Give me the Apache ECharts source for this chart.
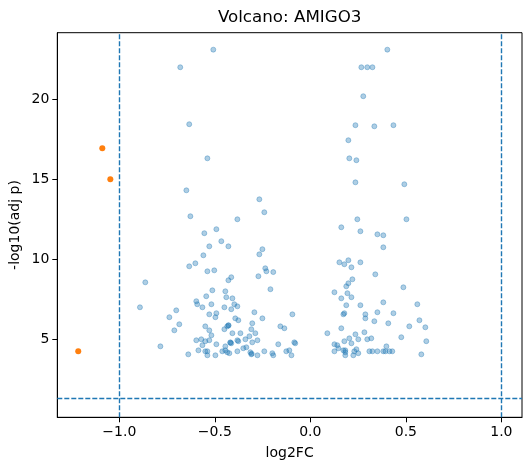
<!DOCTYPE html>
<html>
<head>
<meta charset="utf-8">
<script src="https://cdn.jsdelivr.net/npm/echarts@6/dist/echarts.min.js"></script>
<style>html,body{margin:0;padding:0;background:#fff}#c{width:531px;height:470px}</style>
</head>
<body>
<div id="c"></div>
<script>
const titleText = 'Volcano: AMIGO3';
const xLabel = 'log2FC';
const yLabel = '-log10(adj p)';
const xTicks = [-1.0, -0.5, 0.0, 0.5, 1.0];
const yTicks = [5, 10, 15, 20];
const fcThresholds = [-1, 1];
const pThreshold = 1.301;

const nsLog2FC = [
-0.508,-0.681,-0.634,-0.539,-0.649,-0.267,-0.241,-0.628,-0.382,-0.555,-0.492,-0.466,-0.529,-0.429,-0.251,-0.267,-0.560,-0.602,-0.634,-0.539,
-0.503,-0.236,-0.230,-0.194,-0.272,-0.414,-0.429,-0.864,-0.209,-0.513,-0.445,-0.545,-0.440,-0.408,-0.597,-0.592,-0.518,-0.398,-0.382,-0.892,
-0.565,-0.450,-0.414,-0.702,-0.293,-0.492,-0.529,-0.094,-0.738,-0.497,-0.251,-0.393,-0.377,-0.304,-0.686,-0.429,-0.435,-0.550,-0.157,-0.136,
-0.450,-0.309,-0.712,-0.529,-0.408,-0.366,-0.288,-0.518,-0.319,-0.597,-0.571,-0.550,-0.529,-0.382,-0.377,-0.340,-0.277,-0.084,-0.079,-0.419,
-0.414,-0.304,-0.168,-0.492,-0.565,-0.785,-0.445,-0.335,-0.351,-0.586,-0.550,-0.539,-0.461,-0.445,-0.435,-0.424,-0.382,-0.314,-0.309,-0.241,
-0.199,-0.194,-0.126,-0.110,-0.639,-0.539,-0.497,-0.277,-0.099,-0.419,-0.428,-0.307,
0.403,0.267,0.298,0.325,0.277,0.236,0.335,0.435,0.199,0.204,0.241,0.236,0.492,0.246,0.503,0.162,0.262,0.351,0.382,0.382,
0.152,0.178,0.199,0.262,0.215,0.340,0.220,0.199,0.188,0.487,0.126,0.194,0.162,0.215,0.382,0.188,0.262,0.560,0.173,0.178,
0.288,0.351,0.435,0.288,0.335,0.571,0.408,0.518,0.602,0.162,0.283,0.089,0.236,0.204,0.251,0.298,0.319,0.476,0.607,0.178,
0.215,0.126,0.141,0.147,0.398,0.241,0.173,0.183,0.230,0.126,0.183,0.251,0.183,0.225,0.309,0.325,0.351,0.382,0.393,0.414,
0.429,0.581
];
const nsNegLogP = [
23.1,22.0,18.44,16.31,14.31,13.75,12.94,12.69,12.5,11.63,11.88,11.13,10.81,10.81,10.63,10.31,10.25,9.75,9.56,9.25,
9.31,9.44,9.25,9.2,8.94,8.88,8.69,8.56,8.13,8.06,8.0,7.69,7.63,7.56,7.38,7.19,7.19,7.19,7.06,7.0,
7.0,7.0,6.88,6.81,6.69,6.63,6.56,6.56,6.38,6.38,6.31,6.31,6.19,6.0,5.94,5.88,5.81,5.81,5.81,5.69,
5.63,5.63,5.56,5.56,5.38,5.38,5.38,5.25,5.19,4.94,5.0,4.88,4.94,4.94,4.88,5.0,4.94,4.81,4.75,4.81,
4.75,4.81,4.69,4.69,4.63,4.56,4.56,4.5,4.44,4.31,4.25,4.25,4.25,4.31,4.19,4.13,4.25,4.19,4.06,4.25,
4.13,4.0,4.25,4.31,4.06,4.0,4.0,4.0,4.0,4.78,5.86,4.1,
23.1,22.0,22.0,22.0,20.19,18.38,18.31,18.38,17.44,16.31,16.19,14.81,14.69,12.5,12.5,12.0,11.75,11.56,11.5,10.75,
9.81,9.69,9.94,9.81,9.5,9.06,8.75,8.5,8.31,8.25,7.94,7.88,7.56,7.63,7.31,7.13,7.13,7.19,6.56,6.63,
6.56,6.69,6.63,6.31,6.13,6.19,6.0,5.81,5.75,5.69,5.44,5.38,5.31,5.06,5.0,5.0,5.06,5.13,4.88,4.88,
4.75,4.69,4.63,4.44,4.56,4.38,4.31,4.31,4.25,4.25,4.19,4.13,4.0,4.0,4.25,4.25,4.25,4.25,4.25,4.25,
4.25,4.06
];
const sigLog2FC = [-1.089, -1.047, -1.215];
const sigNegLogP = [16.94, 15.0, 4.25];

const zip = (a, b) => a.map((v, i) => [v, b[i]]);
const FONT = 'DejaVu Sans';
const chart = echarts.init(document.getElementById('c'), null, {renderer: 'canvas'});
const gl = 57.3, gr = 9, gt = 32.7, gb = 52.7;
const axisCommon = {
  axisLine: {show: true, onZero: false, lineStyle: {color: '#000', width: 1}},
  splitLine: {show: false},
};
const lineStyleDash = {color: '#1f77b4', width: 1.4, type: [5, 2], opacity: 1};
chart.setOption({
  animation: false,
  backgroundColor: '#fff',
  grid: {left: gl, right: gr, top: gt, bottom: gb, show: true, borderColor: '#000', borderWidth: 1, containLabel: false},
  xAxis: Object.assign({}, axisCommon, {
    type: 'value', min: -1.3246, max: 1.108,
    axisTick: {show: true, length: 5, lineStyle: {color: '#000'}, customValues: xTicks},
    axisLabel: {customValues: xTicks, color: '#000', fontFamily: FONT, fontSize: 14, margin: 8,
      formatter: v => v.toFixed(1).replace('-', '\u2212')}
  }),
  yAxis: Object.assign({}, axisCommon, {
    type: 'value', min: 0.125, max: 24.16,
    axisTick: {show: true, length: 5, lineStyle: {color: '#000'}, customValues: yTicks},
    axisLabel: {customValues: yTicks, color: '#000', fontFamily: FONT, fontSize: 14, margin: 8}
  }),
  graphic: [
    {type: 'text', x: (gl + 531 - gr) / 2, y: 17.5, style: {text: titleText, fontFamily: FONT, fontSize: 16.7, fill: '#000', align: 'center', verticalAlign: 'middle'}},
    {type: 'text', x: (gl + 531 - gr) / 2, y: 453, style: {text: xLabel, fontFamily: FONT, fontSize: 14, fill: '#000', align: 'center', verticalAlign: 'middle'}},
    {type: 'text', x: 15, y: (gt + 470 - gb) / 2, rotation: Math.PI / 2, style: {text: yLabel, fontFamily: FONT, fontSize: 14, fill: '#000', align: 'center', verticalAlign: 'middle'}}
  ],
  series: [
    {
      type: 'scatter', name: 'ns', data: zip(nsLog2FC, nsNegLogP), symbolSize: 5,
      itemStyle: {color: 'rgba(31,119,180,0.45)', borderColor: 'rgba(31,119,180,0.45)', borderWidth: 1}
    },
    {
      type: 'scatter', name: 'sig', data: zip(sigLog2FC, sigNegLogP), symbolSize: 6,
      itemStyle: {color: '#ff7f0e', opacity: 1}
    },
    {
      type: 'line', name: 'thresholds', data: [], silent: true,
      markLine: {
        silent: true, symbol: 'none', label: {show: false}, emphasis: {disabled: true},
        lineStyle: lineStyleDash,
        data: [
          {xAxis: fcThresholds[0], lineStyle: lineStyleDash},
          {xAxis: fcThresholds[1], lineStyle: lineStyleDash},
          {yAxis: pThreshold, lineStyle: lineStyleDash}
        ]
      }
    }
  ]
});
</script>
</body>
</html>
